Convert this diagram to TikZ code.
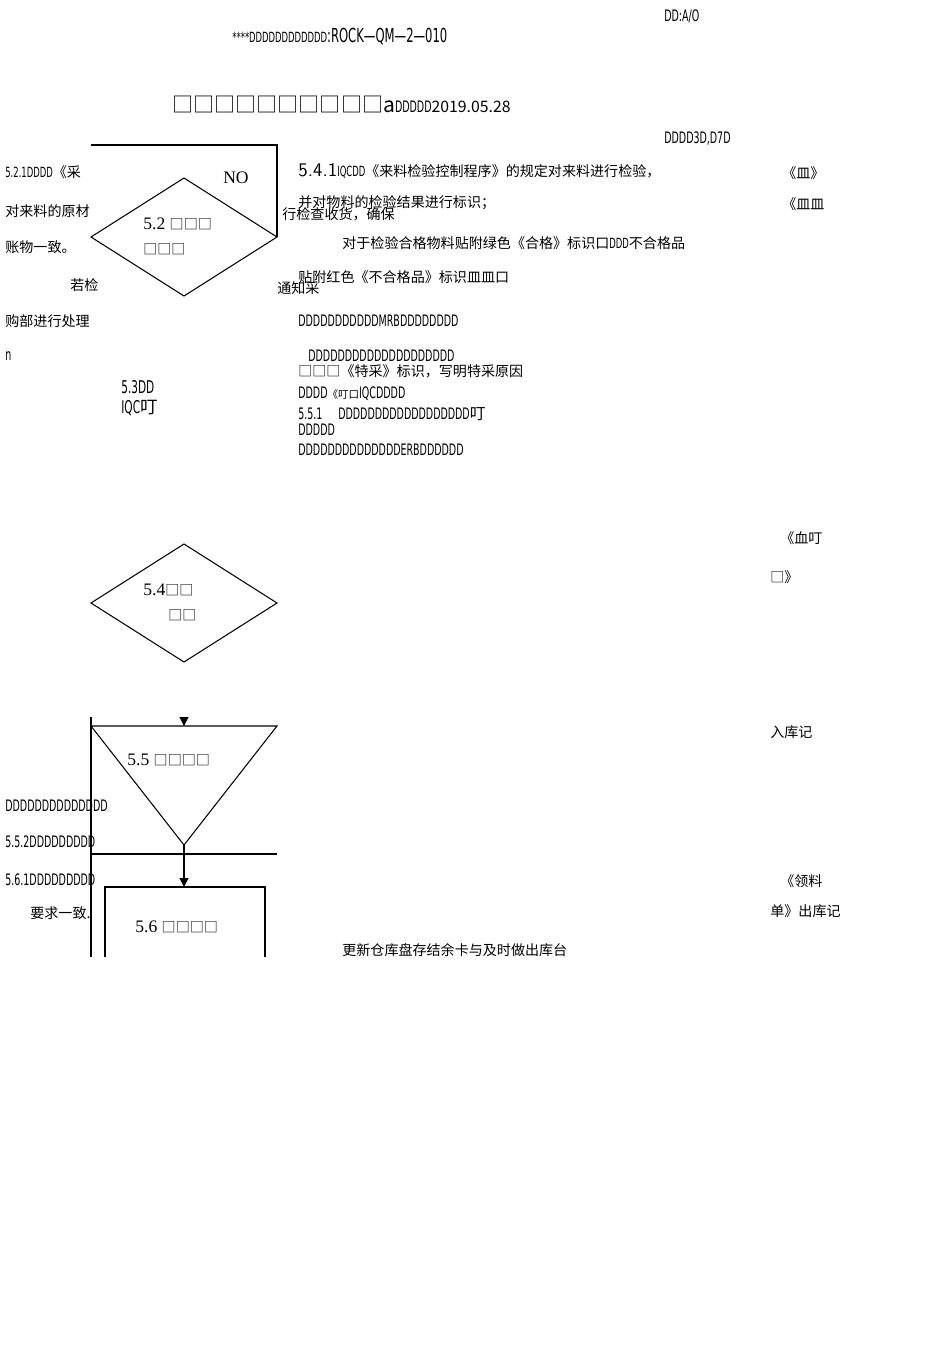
\documentclass[tikz,border=0pt]{standalone}
\usepackage{fontspec}
\setmainfont{Liberation Serif}
\newfontfamily\cjk{Noto Sans CJK SC}
\newfontfamily\cond[FakeStretch=0.6]{DejaVu Sans}
\usetikzlibrary{arrows.meta}
\begin{document}
\begin{tikzpicture}[x=0.02cm,y=-0.02cm,
  t/.style={anchor=west,inner sep=0pt,font=\cjk\fontsize{8}{9}\selectfont},
  d/.style={anchor=west,inner sep=0pt,font=\cond\fontsize{9}{10}\selectfont},
  ln/.style={line width=0.6pt},
  ar/.style={ln,-{Triangle[length=5pt,width=5pt]}}]
\useasboundingbox (0,0) rectangle (950,1347);
% header
\node[d] (h1) at (664,16) {DD:A/O};
\node[d,font=\cond\fontsize{11}{12}\selectfont] (h2) at (232,37) {{\fontsize{8}{9}\selectfont ****DDDDDDDDDDDD}:ROCK—QM—2—010};
\node[anchor=west,inner sep=0pt,font=\cjk\fontsize{12}{13}\selectfont] (h3) at (172,104) {□□□□□□□□□□a{\cond\fontsize{9}{10}\selectfont DDDDD}{\fontsize{9}{10}\selectfont 2019.05.28}};
\node[d] (h4) at (664,139) {DDDD3D,D7D};
% left column text
\node[t] (l1) at (5,172) {{\cond 5.2.1DDDD}《采};
\node[t] (l2) at (5,211) {对来料的原材};
\node[t] (l3) at (5,247) {账物一致。};
\node[t] (l4) at (70,285) {若检};
\node[t] (l5) at (5,321) {购部进行处理};
\node[d] (l6) at (5,356) {n};
% right column text
\node[t] (r0) at (282,214) {行检查收货，确保};
\node[t] (r1) at (298,171) {{\sffamily\fontsize{11}{12}\selectfont 5.4.1}{\cond IQCDD}《来料检验控制程序》的规定对来料进行检验，};
\node[t] (r2) at (298,203) {并对物料的检验结果进行标识；};
\node[t] (r3) at (342,243) {对于检验合格物料贴附绿色《合格》标识口{\cond DDD}不合格品};
\node[t] (r4) at (298,277) {贴附红色《不合格品》标识皿皿口};
\node[t] (r4b) at (277,288) {通知采};
\node[d] (r5) at (298,321) {DDDDDDDDDDDMRBDDDDDDDD};
\node[d] (r6) at (308,356) {DDDDDDDDDDDDDDDDDDDD};
\node[t] (r7) at (298,371) {□□□《特采》标识，写明特采原因};
\node[d] (r8) at (298,394) {DDDD{\cjk\fontsize{6}{7}\selectfont 《叮口}IQCDDDD};
\node[d] (r9) at (298,414) {5.5.1\quad DDDDDDDDDDDDDDDDDD{\cjk 叮}};
\node[d] (r10) at (298,430) {DDDDD};
\node[d] (r11) at (298,450) {DDDDDDDDDDDDDDERBDDDDDD};
% far right
\node[t] (f1) at (782,173) {《皿》};
\node[t] (f2) at (782,204) {《皿皿};
\node[t] (f3) at (780,538) {《血叮};
\node[t] (f4) at (770,577) {□》};
\node[t] (f5) at (770,732) {入库记};
\node[t] (f6) at (780,881) {《领料};
\node[t] (f7) at (770,911) {单》出库记};
\node[t] (f8) at (342,950) {更新仓库盘存结余卡与及时做出库台};
% bottom-left
\node[d] (b1) at (5,806) {DDDDDDDDDDDDDD};
\node[d] (b2) at (5,842) {5.5.2DDDDDDDDD};
\node[d] (b3) at (5,880) {5.6.1DDDDDDDDD};
\node[t] (b4) at (30,913) {要求一致.};
% diagram
\coordinate (c1) at (91,145);
\coordinate (c2) at (277,145);
\draw[ln] (c1) -- (c2) -- (277,237);
\node[font=\fontsize{10}{11}\selectfont,inner sep=0pt] (no) at (236,178) {NO};
\draw[ln,fill=white] (184,178) coordinate (d1t) -- (277,237) -- (184,296) -- (91,237) -- cycle;
\node[t,font=\fontsize{10}{11}\selectfont] (d1a) at (143,224) {5.2 {\cjk\fontsize{8}{9}\selectfont □□□}};
\node[t,font=\cjk\fontsize{8}{9}\selectfont] (d1b) at (143,249) {□□□};
\node[d,font=\cond\fontsize{10}{11}\selectfont] (s3a) at (121,387) {5.3DD};
\node[d,font=\cond\fontsize{10}{11}\selectfont] (s3b) at (121,408) {IQC{\cjk 叮}};
\draw[ln] (184,544) -- (277,603) -- (184,662) -- (91,603) -- cycle;
\node[t,font=\fontsize{10}{11}\selectfont] (d2a) at (143,590) {5.4{\cjk\fontsize{8}{9}\selectfont □□}};
\node[t,font=\cjk\fontsize{8}{9}\selectfont] (d2b) at (168,615) {□□};
\draw[ln] (91,717) -- (91,957);
\coordinate (a0) at (184,717);
\coordinate (tt) at (184,726);
\draw[ar] (a0) -- (tt);
\draw[ln] (91,726) -- (277,726) -- (184,845) coordinate (apex) -- cycle;
\node[t,font=\fontsize{10}{11}\selectfont] (tr) at (127,760) {5.5 {\cjk\fontsize{8}{9}\selectfont □□□□}};
\draw[ln] (91,854) -- (277,854);
\draw[ln] (105,957) -- (105,887) -- (265,887) -- (265,957);
\coordinate (rt) at (184,887);
\draw[ar] (apex) -- (rt);
\node[t,font=\fontsize{10}{11}\selectfont] (rc) at (135,927) {5.6 {\cjk\fontsize{8}{9}\selectfont □□□□}};
\end{tikzpicture}
\end{document}
